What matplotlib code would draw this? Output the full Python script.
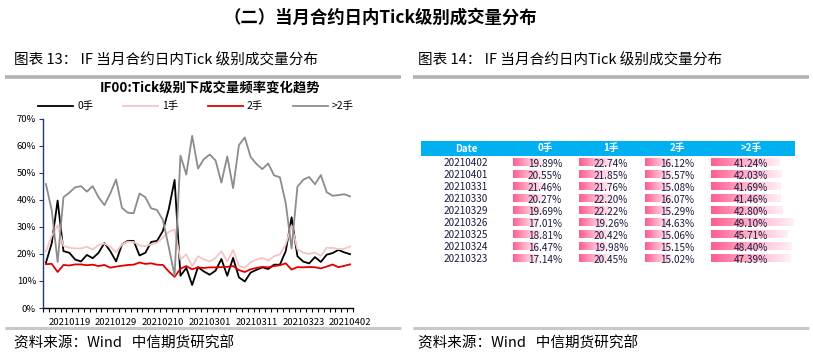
import numpy as np
import matplotlib
matplotlib.use("Agg")
import matplotlib.pyplot as plt
from matplotlib.colors import LinearSegmentedColormap

plt.rcParams['font.family'] = ['Noto Sans CJK SC', 'DejaVu Sans']
plt.rcParams['axes.unicode_minus'] = False

# trading days 20210113 - 20210402
dates = ["20210113", "20210114", "20210115", "20210118", "20210119", "20210120",
         "20210121", "20210122", "20210125", "20210126", "20210127", "20210128",
         "20210129", "20210201", "20210202", "20210203", "20210204", "20210205",
         "20210208", "20210209", "20210210", "20210218", "20210219", "20210222",
         "20210223", "20210224", "20210225", "20210226", "20210301", "20210302",
         "20210303", "20210304", "20210305", "20210308", "20210309", "20210310",
         "20210311", "20210312", "20210315", "20210316", "20210317", "20210318",
         "20210319", "20210322", "20210323", "20210324", "20210325", "20210326",
         "20210329", "20210330", "20210331", "20210401", "20210402"]

lot0 = [16.7, 24.0, 39.7, 21.0, 20.4, 17.9, 17.2, 19.6, 18.4, 20.4, 24.0, 21.0,
        17.2, 23.5, 24.8, 24.8, 19.4, 20.4, 24.4, 24.8, 28.5, 36.5, 47.3, 11.9,
        14.8, 8.5, 15.1, 13.5, 12.3, 13.8, 18.1, 11.9, 18.5, 11.3, 9.8, 13.1,
        14.1, 15.0, 14.4, 16.0, 16.0, 21.0, 33.5, 19.1,
        17.14, 16.47, 18.81, 17.01, 19.69, 20.27, 21.46, 20.55, 19.89]
lot1 = [21.0, 26.6, 30.5, 22.9, 22.3, 22.0, 22.0, 22.6, 21.6, 23.3, 23.8, 22.6,
        20.6, 23.5, 24.5, 24.4, 23.1, 22.9, 23.5, 24.1, 26.0, 28.1, 29.0, 17.9,
        19.8, 15.5, 19.1, 17.9, 17.2, 18.5, 21.0, 17.2, 21.4, 15.6, 14.8, 16.9,
        17.9, 18.5, 17.5, 19.1, 19.8, 23.5, 30.5, 21.6,
        20.45, 19.98, 20.42, 19.26, 22.22, 22.20, 21.76, 21.85, 22.74]
lot2 = [16.2, 16.3, 13.3, 15.9, 15.7, 16.1, 16.1, 15.8, 16.0, 15.5, 15.9, 14.9,
        15.3, 15.6, 15.9, 16.0, 16.8, 16.3, 16.5, 16.0, 15.9, 13.5, 11.5, 14.5,
        15.5, 14.3, 15.0, 14.8, 15.0, 15.0, 15.1, 15.2, 15.5, 14.0, 13.3, 14.3,
        14.8, 15.2, 15.0, 15.5, 15.8, 16.5, 14.2, 15.1,
        15.02, 15.15, 15.06, 14.63, 15.29, 16.07, 15.08, 15.57, 16.12]
lot3 = [45.8, 36.0, 17.0, 40.9, 42.6, 44.6, 45.0, 43.0, 45.0, 40.9, 38.0, 42.3,
        47.5, 37.0, 35.2, 35.0, 42.3, 40.9, 36.8, 36.2, 32.5, 22.5, 12.0, 56.3,
        49.3, 63.6, 51.5, 55.0, 56.7, 54.5, 46.3, 56.0, 44.3, 60.2, 63.0, 55.8,
        53.2, 51.3, 53.4, 49.0, 48.3, 38.7, 22.0, 44.8,
        47.39, 48.40, 45.71, 49.10, 42.80, 41.46, 41.69, 42.03, 41.24]

series_names = ["0手", "1手", "2手", ">2手"]
series_colors = ["#000000", "#f7c4c6", "#e00000", "#8c8c8c"]

# right-hand table (latest 9 days)
table_cols = ["Date", "0手", "1手", "2手", ">2手"]
table_dates = ["20210402", "20210401", "20210331", "20210330", "20210329",
               "20210326", "20210325", "20210324", "20210323"]
t0 = [19.89, 20.55, 21.46, 20.27, 19.69, 17.01, 18.81, 16.47, 17.14]
t1 = [22.74, 21.85, 21.76, 22.20, 22.22, 19.26, 20.42, 19.98, 20.45]
t2 = [16.12, 15.57, 15.08, 16.07, 15.29, 14.63, 15.06, 15.15, 15.02]
t3 = [41.24, 42.03, 41.69, 41.46, 42.80, 49.10, 45.71, 48.40, 47.39]

W, H = 813, 354
fig = plt.figure(figsize=(W / 100, H / 100), dpi=100)

# -------------------------------
# page texts and grey rules
# -------------------------------
fig.text(380 / W, 1 - 18 / H, "（二）当月合约日内Tick级别成交量分布",
         ha="center", va="center", fontsize=12.5, fontweight="bold")
fig.text(14 / W, 1 - 60 / H, "图表 13： IF 当月合约日内Tick 级别成交量分布",
         ha="left", va="center", fontsize=10.5)
fig.text(418 / W, 1 - 60 / H, "图表 14： IF 当月合约日内Tick 级别成交量分布",
         ha="left", va="center", fontsize=10.5)
fig.text(14 / W, 1 - 343 / H, "资料来源：Wind   中信期货研究部",
         ha="left", va="center", fontsize=10.5)
fig.text(418 / W, 1 - 343 / H, "资料来源：Wind   中信期货研究部",
         ha="left", va="center", fontsize=10.5)

page = fig.add_axes([0, 0, 1, 1])
page.set_xlim(0, W)
page.set_ylim(H, 0)
page.axis("off")
page.zorder = -1
for x0, x1 in [(5, 401), (413, 809)]:
    page.plot([x0, x1], [76.5, 76.5], color="#b4b4b4", lw=2.6, solid_capstyle="butt")
    page.plot([x0, x1], [328, 328], color="#c8c8c8", lw=2.2, solid_capstyle="butt")

# --------------------------------
# left: line chart
# --------------------------------
ax = fig.add_axes([43 / W, 1 - 308 / H, 310 / W, 189.5 / H])
x = np.arange(len(dates))
lot_series = [lot0, lot1, lot2, lot3]
for vals, name, col in zip(lot_series, series_names, series_colors):
    ax.plot(x, np.array(vals) / 100, color=col, lw=1.3, label=name)

ax.set_xlim(-0.5, len(dates) - 0.5)
ax.set_ylim(0, 0.7)
ax.set_yticks(np.arange(0, 0.71, 0.1))
ax.set_yticklabels([f"{int(round(v * 100))}%" for v in np.arange(0, 0.71, 0.1)])
ax.set_xticks(np.arange(-0.5, len(dates), 1), minor=True)
lab_idx = list(range(4, len(dates), 8))
ax.set_xticks(lab_idx)
ax.set_xticklabels([dates[i] for i in lab_idx])
ax.tick_params(axis="x", which="major", length=0, labelsize=6.8, pad=7)
ax.tick_params(axis="x", which="minor", length=3, width=0.8, direction="out")
ax.tick_params(axis="y", length=3, width=0.8, labelsize=6.8, direction="out",
               color="#1f3c78", pad=2)
for s in ["top", "right"]:
    ax.spines[s].set_visible(False)
ax.spines["left"].set_color("#1f3c78")
ax.spines["left"].set_linewidth(1.0)
ax.spines["bottom"].set_linewidth(1.0)

fig.text(210 / W, 1 - 88 / H, "IF00:Tick级别下成交量频率变化趋势",
         ha="center", va="center", fontsize=9.6, fontweight="bold")
ax.legend(loc="lower center", bbox_to_anchor=(0.494, 1.0), ncol=4, frameon=False,
          fontsize=7.5, handlelength=3.3, columnspacing=2.9, handletextpad=0.4,
          borderaxespad=0.3)

# --------------------------------
# right: table with data bars
# --------------------------------
tab = fig.add_axes([0, 0, 1, 1])
tab.set_xlim(0, W)
tab.set_ylim(H, 0)
tab.axis("off")

col_centres = [466, 545, 611, 677, 751]
bar_starts = [None, 513, 579, 645, 711]
bar_maxw = [None, 32, 34, 28, 82]
row0, row_h = 163.3, 12.0
tab.add_patch(plt.Rectangle((421, 141), 374, 15, color="#00b0f0", lw=0))
for c, name in enumerate(table_cols):
    tab.text(col_centres[c], 148.5, name, ha="center", va="center",
             color="white", fontsize=7, fontweight="bold")

pink = LinearSegmentedColormap.from_list("pk", ["#ff5c8f", "#ffb3cb", "#fff0f5"])
grad = np.linspace(0, 1, 128).reshape(1, -1)
table_vals = [t0, t1, t2, t3]
for r, d in enumerate(table_dates):
    yc = row0 + r * row_h
    tab.text(col_centres[0], yc, d, ha="center", va="center",
             color="#1a1a40", fontsize=7.2)
    for c, vals in enumerate(table_vals, start=1):
        v = vals[r]
        w = bar_maxw[c] * v / max(vals)
        tab.imshow(grad, cmap=pink, aspect="auto", interpolation="bilinear",
                   extent=(bar_starts[c], bar_starts[c] + w, yc + 3.0, yc - 4.5),
                   zorder=1)
        tab.text(col_centres[c], yc + 0.5, f"{v:.2f}%", ha="center", va="center",
                 color="#1a1a40", fontsize=7.2, zorder=2)
tab.set_xlim(0, W)
tab.set_ylim(H, 0)

fig.savefig("out.png", dpi=100)
